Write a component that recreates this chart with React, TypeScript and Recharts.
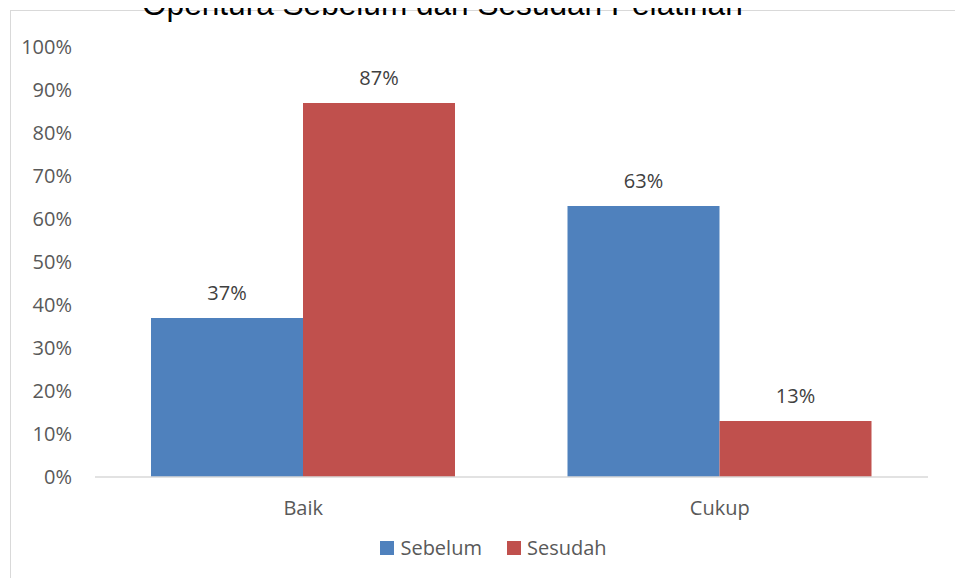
import React from 'react';
import { BarChart, Bar, XAxis, YAxis, Legend, LabelList } from 'recharts';

const categories = ['Baik', 'Cukup'];
const sebelum = [37, 63];
const sesudah = [87, 13];
const yTicks = [0, 10, 20, 30, 40, 50, 60, 70, 80, 90, 100];

const data = categories.map((name, i) => ({ name, Sebelum: sebelum[i], Sesudah: sesudah[i] }));

const FONT = '"Open Sans", "Noto Sans", sans-serif';

const renderLegend = (props: any) => {
  const { payload } = props;
  return (
    <div style={{ display: 'flex', justifyContent: 'center', alignItems: 'center', fontFamily: FONT, fontSize: 20, color: '#595959', paddingLeft: 24 }}>
      {(payload || []).map((entry: any, i: number) => (
        <div key={entry.value} style={{ display: 'flex', alignItems: 'center', marginRight: i === 0 ? 25 : 0 }}>
          <span style={{ display: 'inline-block', width: 14, height: 14, background: entry.color, marginRight: 6 }} />
          <span>{entry.value}</span>
        </div>
      ))}
    </div>
  );
};

export default function App() {
  return (
    <div style={{ position: 'relative', width: 963, height: 578, marginLeft: -8, marginTop: -8, overflow: 'hidden', background: '#fff' }}>
      <div style={{ position: 'absolute', left: 10, top: 10, width: 1000, height: 1000, borderLeft: '1.5px solid #d9d9d9', borderTop: '1.5px solid #d9d9d9' }} />
      <div style={{ position: 'absolute', left: 142, top: -12, fontFamily: '"Liberation Sans", Arial, sans-serif', fontSize: 31.6, lineHeight: '32px', color: '#000', whiteSpace: 'nowrap' }}>
        Opentura Sebelum dan Sesudah Pelatihan
      </div>
      <div style={{ position: 'absolute', left: 0, top: 0 }}>
        <BarChart width={963} height={578} data={data} barGap={0} barSize={152}
                  margin={{ top: 47, right: 35, left: 0, bottom: 41 }}>
          <XAxis dataKey="name" height={60} tickLine={false} tickSize={24} tickMargin={0}
                 axisLine={{ stroke: '#d9d9d9', strokeWidth: 1.5 }}
                 tick={{ fontSize: 20, fill: '#595959', fontFamily: FONT }} />
          <YAxis width={95} domain={[0, 100]} ticks={yTicks} interval={0} axisLine={false} tickLine={false}
                 tickSize={23} tickMargin={0} tickFormatter={(v: number) => `${v}%`}
                 tick={{ fontSize: 20, fill: '#595959', fontFamily: FONT }} />
          <Legend layout="horizontal" verticalAlign="middle" align="center" content={renderLegend}
                  wrapperStyle={{ top: 534, left: 0, width: 963 }} />
          <Bar dataKey="Sebelum" fill="#4F81BD" isAnimationActive={false}>
            <LabelList dataKey="Sebelum" position="top" offset={18} formatter={(v: any) => `${v}%`}
                       style={{ fontSize: 20, fill: '#404040', fontFamily: FONT }} />
          </Bar>
          <Bar dataKey="Sesudah" fill="#C0504D" isAnimationActive={false}>
            <LabelList dataKey="Sesudah" position="top" offset={18} formatter={(v: any) => `${v}%`}
                       style={{ fontSize: 20, fill: '#404040', fontFamily: FONT }} />
          </Bar>
        </BarChart>
      </div>
    </div>
  );
}
